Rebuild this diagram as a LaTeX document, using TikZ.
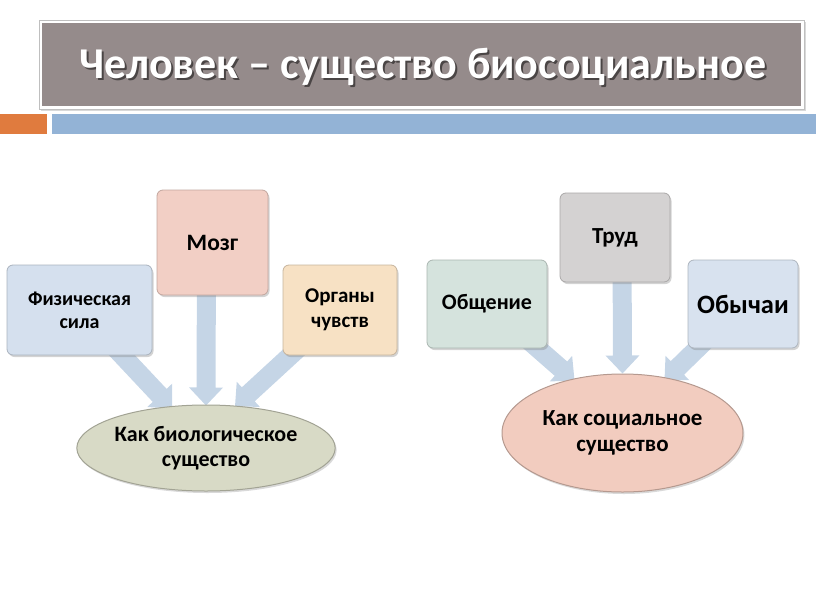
\documentclass[tikz,border=0pt]{standalone}
\usepackage{fontspec}
\setmainfont{Carlito}
\usetikzlibrary{arrows.meta,shapes.geometric,shadows,calc,backgrounds}
\definecolor{titlegray}{HTML}{958B8B}
\definecolor{barorange}{HTML}{E07B3E}
\definecolor{barblue}{HTML}{93B3D6}
\definecolor{arrowblue}{HTML}{C5D5E6}
\definecolor{cfiz}{HTML}{D5E0EE}
\definecolor{cmozg}{HTML}{F2CFC5}
\definecolor{corg}{HTML}{F7E1C4}
\definecolor{cbio}{HTML}{D8DAC6}
\definecolor{cobsh}{HTML}{D5E3DD}
\definecolor{ctrud}{HTML}{D4D2D2}
\definecolor{cobych}{HTML}{D8E2EF}
\definecolor{csoc}{HTML}{F2CCBF}
\tikzset{
  boxnode/.style={rectangle, rounded corners=6pt, align=center, font=\bfseries,
    line width=0.8pt, inner sep=2pt,
    drop shadow={opacity=0.35, shadow xshift=1.5pt, shadow yshift=-2pt}},
  ovalnode/.style={ellipse, align=center,
    line width=1pt, inner sep=0pt,
    drop shadow={opacity=0.3, shadow xshift=1.5pt, shadow yshift=-2pt}},
  barrowfill/.style={fill=arrowblue, draw=none},
  bar/.style={draw=none, rectangle, inner sep=0pt}
}
% block arrow: #1 = tail point, #2 = tip point
\newcommand{\blockarrow}[2]{%
  \path ($(#2)!18pt!(#1)$) coordinate (bah);%
  \fill[barrowfill]
    ($(#1)!9.5pt!90:(#2)$) --
    ($(bah)!9.5pt!-90:(#1)$) --
    ($(bah)!17pt!-90:(#1)$) --
    (#2) --
    ($(bah)!17pt!90:(#1)$) --
    ($(bah)!9.5pt!90:(#1)$) --
    ($(#1)!9.5pt!-90:(#2)$) -- cycle;%
}
\begin{document}
\begin{tikzpicture}[x=1pt,y=-1pt]
\useasboundingbox (0,0) rectangle (816,613);
% header
\node[rectangle, fill=white, draw=black!25, line width=0.8pt, minimum width=765pt, minimum height=89pt,
  drop shadow={opacity=0.3, shadow xshift=1.5pt, shadow yshift=-2pt}] (titleframe) at (421.5,64.5) {};
\node[rectangle, fill=titlegray, minimum width=759pt, minimum height=83pt] (titlebox) at (421.5,64.5) {};
\node[text=black, opacity=0.5, font=\bfseries\fontsize{44}{50}\selectfont] (titleshadow) at (425,69) {Человек – существо биосоциальное};
\node[text=white, font=\bfseries\fontsize{44}{50}\selectfont] (title) at (423,67) {Человек – существо биосоциальное};
\node[bar, fill=barorange, minimum width=47pt, minimum height=20pt] (orange) at (23.5,124) {};
\node[bar, fill=barblue, minimum width=764pt, minimum height=20pt] (blue) at (434,124) {};

% left diagram
\node[boxnode, fill=cfiz, draw=cfiz!80!black, minimum width=145pt, minimum height=90pt,
  font=\bfseries\fontsize{20}{23}\selectfont] (fiz) at (79.5,310) {Физическая\\сила};
\node[boxnode, fill=cmozg, draw=cmozg!80!black, minimum width=111pt, minimum height=105pt,
  font=\bfseries\fontsize{23.5}{26}\selectfont] (mozg) at (212.5,242.5) {Мозг};
\node[boxnode, fill=corg, draw=corg!80!black, minimum width=114pt, minimum height=90pt,
  font=\bfseries\fontsize{21}{25}\selectfont] (org) at (340,310) {Органы\\чувств};
\node[ovalnode, fill=cbio, draw=cbio!75!black, minimum width=257pt, minimum height=86pt,
  font=\bfseries\fontsize{22}{25}\selectfont] (bio) at (206,448) {Как биологическое\\существо};

% right diagram
\node[boxnode, fill=cobsh, draw=cobsh!80!black, minimum width=120pt, minimum height=88pt,
  font=\bfseries\fontsize{22}{25}\selectfont] (obsh) at (487,304) {Общение};
\node[boxnode, fill=ctrud, draw=ctrud!80!black, minimum width=110pt, minimum height=89pt,
  font=\bfseries\fontsize{23}{26}\selectfont] (trud) at (615,237.5) {Труд};
\node[boxnode, fill=cobych, draw=cobych!80!black, minimum width=110pt, minimum height=88pt,
  font=\bfseries\fontsize{26.5}{29}\selectfont] (obych) at (743,304) {Обычаи};
\node[ovalnode, fill=csoc, draw=csoc!75!black, minimum width=241pt, minimum height=118pt,
  font=\bfseries\fontsize{23}{26}\selectfont] (soc) at (622.5,433) {Как социальное\\существо};

% block arrows behind the shapes
\begin{scope}[on background layer]
\coordinate (t1) at ($(bio.north)+(-34,4)$);
\coordinate (t2) at ($(bio.north)+(0,1)$);
\coordinate (t3) at ($(bio.north)+(29,2)$);
\coordinate (t4) at ($(soc.north)+(-48,7)$);
\coordinate (t5) at ($(soc.north)+(0,0)$);
\coordinate (t6) at ($(soc.north)+(42,7)$);
\coordinate (s2) at ($(mozg.center)+(-6,0)$);
\coordinate (s5) at ($(trud.center)+(7,0)$);
\blockarrow{fiz.center}{t1}
\blockarrow{s2}{t2}
\blockarrow{org.center}{t3}
\blockarrow{obsh.center}{t4}
\blockarrow{s5}{t5}
\blockarrow{obych.center}{t6}
\end{scope}
\end{tikzpicture}
\end{document}
